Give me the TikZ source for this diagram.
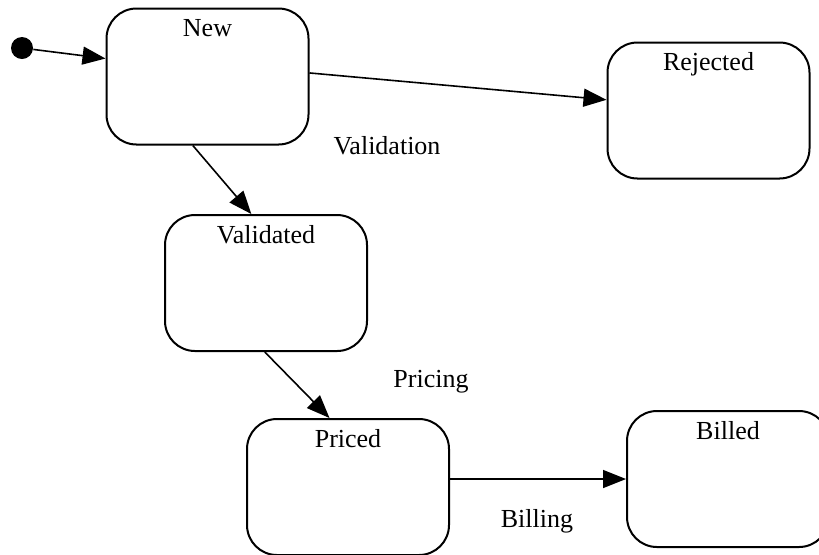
\documentclass[tikz,border=0pt]{standalone}
\usepackage{fontspec}
\setmainfont{Liberation Serif}
\usepackage{tikz}
\usetikzlibrary{arrows.meta,positioning}

\tikzset{
  statebox/.style={draw, line width=1pt, rounded corners=15pt,
    minimum width=101pt, minimum height=68pt, inner sep=0pt,
    label={[anchor=base, yshift=-14.5pt, inner sep=0pt]north:#1}},
  initdot/.style={circle, fill=black, minimum size=11pt, inner sep=0pt},
  trans/.style={line width=0.8pt, -{Triangle[length=11.5pt, width=9pt]}},
  translbl/.style={anchor=base, inner sep=0pt}
}

\begin{document}
\begin{tikzpicture}[x=0.5pt, y=-0.5pt, font=\fontsize{13}{15.6}\selectfont]
\useasboundingbox (0,0) rectangle (819,554);
\clip (0,0) rectangle (819,554);

% states
\node[initdot] (init) at (22,48) {};
\node[statebox=New] (new) at (207.5,76.5) {};
\node[statebox=Rejected] (rejected) at (708.5,110.5) {};
\node[statebox=Validated] (validated) at (266,283) {};
\node[statebox=Priced] (priced) at (348,487) {};
\node[statebox=Billed] (billed) at (728,479) {};

% transitions
\draw[trans] (init) -- (new.170);
\draw[trans] (new.2.5) -- (rejected.174);
\draw[trans] (new.258) -- (validated.102);
\draw[trans] (validated.269) -- (priced.105);
\draw[trans] (priced.east |- billed.west) -- (billed.west);

% transition labels
\node[translbl] (lblvalidation) at (387,154) {Validation};
\node[translbl] (lblpricing) at (431,387) {Pricing};
\node[translbl] (lblbilling) at (537,527) {Billing};
\end{tikzpicture}
\end{document}
